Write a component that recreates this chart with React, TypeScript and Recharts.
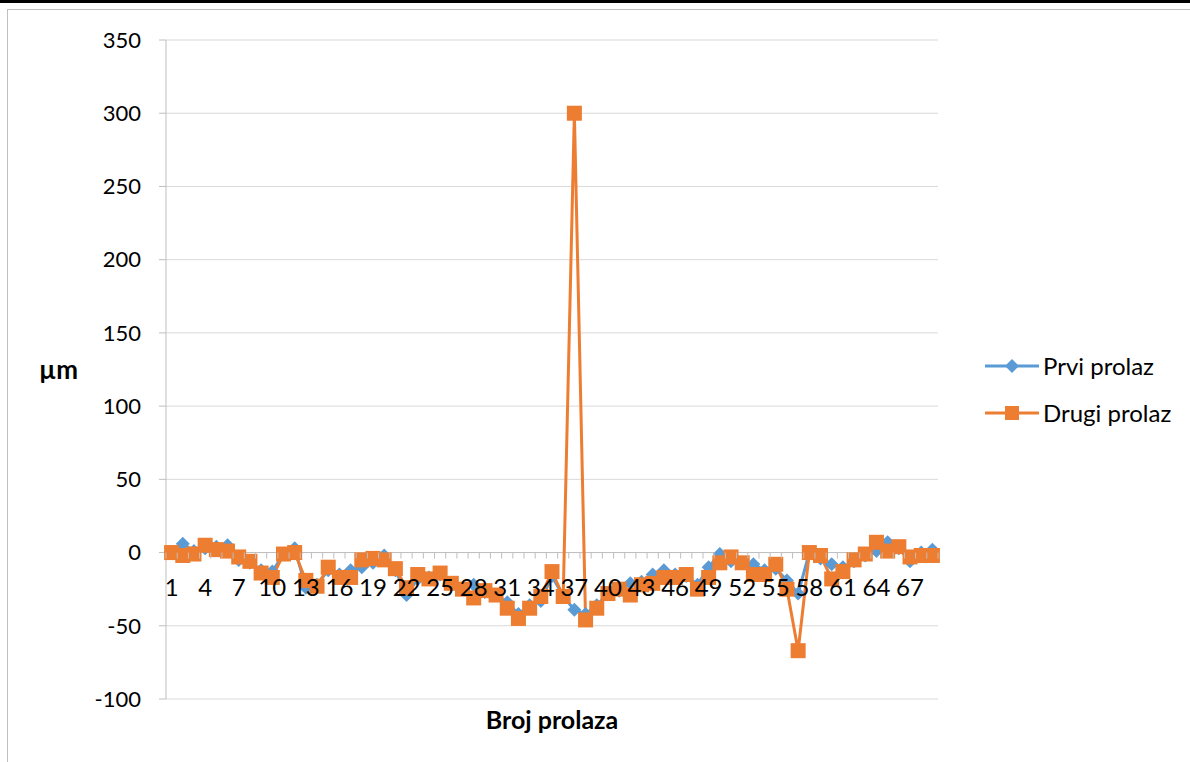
import React from 'react';
import {
  LineChart,
  Line,
  XAxis,
  YAxis,
  CartesianGrid,
  ReferenceLine,
  Legend,
} from 'recharts';

// broj prolaza 1..69
const passes = [
  1, 2, 3, 4, 5, 6, 7, 8, 9, 10, 11, 12, 13, 14, 15, 16, 17, 18, 19, 20, 21, 22, 23,
  24, 25, 26, 27, 28, 29, 30, 31, 32, 33, 34, 35, 36, 37, 38, 39, 40, 41, 42, 43, 44, 45, 46,
  47, 48, 49, 50, 51, 52, 53, 54, 55, 56, 57, 58, 59, 60, 61, 62, 63, 64, 65, 66, 67, 68, 69,
];

const prviProlaz = [
  0, 6, 1, 3, 4, 5, -5, -7, -12, -13, -1, 3, -24, -22, -12, -15, -12, -10, -7, -2, -12, -29, -18,
  -17, -15, -22, -25, -22, -27, -29, -34, -42, -36, -33, -16, -30, -39, -42, -36, -28, -26, -21, -20, -15, -12, -15,
  -16, -22, -10, -1, -6, -7, -8, -12, -11, -19, -28, 0, -4, -8, -10, -6, -2, 1, 7, 3, -6, 0, 2,
];

const drugiProlaz = [
  0, -2, -1, 5, 2, 1, -3, -6, -14, -17, -1, 0, -19, -23, -10, -17, -17, -5, -4, -5, -11, -24, -15,
  -18, -14, -21, -25, -31, -26, -29, -38, -45, -38, -30, -13, -30, 300, -46, -38, -28, -25, -29, -22, -21, -17, -17,
  -15, -25, -17, -7, -3, -7, -15, -15, -8, -25, -67, 0, -2, -18, -13, -5, -1, 7, 1, 4, -3, -2, -2,
];

const yTicks = [-100, -50, 0, 50, 100, 150, 200, 250, 300, 350];
const xTickLabels = [1, 4, 7, 10, 13, 16, 19, 22, 25, 28, 31, 34, 37, 40, 43, 46, 49, 52, 55, 58, 61, 64, 67];

const data = passes.map((n, i) => ({
  n,
  prvi: prviProlaz[i],
  drugi: drugiProlaz[i],
}));

const WIDTH = 1190;
const HEIGHT = 762;
const MARGIN = { top: 40, right: 252, bottom: 33, left: 106 };
const Y_AXIS_W = 60;
const X_AXIS_H = 30;
const PLOT_W = WIDTH - MARGIN.left - Y_AXIS_W - MARGIN.right;
const PLOT_H = HEIGHT - MARGIN.top - MARGIN.bottom - X_AXIS_H;
const BAND = PLOT_W / passes.length;
const Y_MIN = yTicks[0];
const Y_MAX = yTicks[yTicks.length - 1];
// distance from the bottom of the plot up to the 0 line
const ZERO_SHIFT = (PLOT_H * (0 - Y_MIN)) / (Y_MAX - Y_MIN);

const BLUE = '#5b9bd5';
const ORANGE = '#ed7d31';
const AXIS = '#bfbfbf';
const GRID = '#d9d9d9';
const FONT = 'Lato, "Open Sans", sans-serif';
const TEXT = '#000000';

const XTick = (props: any) => {
  const { x, y, payload } = props;
  const y0 = y - ZERO_SHIFT;
  const isLast = payload.value === passes[passes.length - 1];
  return (
    <g>
      <line x1={x - BAND / 2} x2={x - BAND / 2} y1={y0} y2={y0 + 6} stroke={AXIS} />
      {isLast && <line x1={x + BAND / 2} x2={x + BAND / 2} y1={y0} y2={y0 + 6} stroke={AXIS} />}
      {xTickLabels.includes(payload.value) && (
        <text x={x} y={y0 + 43} textAnchor="middle" fill={TEXT} fontSize={24} fontFamily={FONT}>
          {payload.value}
        </text>
      )}
    </g>
  );
};

const diamondDot = (p: any) => {
  const { cx, cy, index } = p;
  const s = 7;
  return (
    <polygon
      key={`d-${index}`}
      points={`${cx},${cy - s} ${cx + s},${cy} ${cx},${cy + s} ${cx - s},${cy}`}
      fill={BLUE}
    />
  );
};

const squareDot = (p: any) => {
  const { cx, cy, index } = p;
  const s = 15;
  return <rect key={`s-${index}`} x={cx - s / 2} y={cy - s / 2} width={s} height={s} fill={ORANGE} />;
};

const LegendBox = () => (
  <div style={{ fontFamily: FONT, fontSize: 24, color: TEXT }}>
    {[
      { name: 'Prvi prolaz', color: BLUE, shape: 'diamond' },
      { name: 'Drugi prolaz', color: ORANGE, shape: 'square' },
    ].map((item) => (
      <div key={item.name} style={{ display: 'flex', alignItems: 'center', height: 47 }}>
        <svg width={54} height={20} style={{ marginRight: 4 }}>
          <line x1={0} x2={54} y1={10} y2={10} stroke={item.color} strokeWidth={3} />
          {item.shape === 'diamond' ? (
            <polygon points="27,3 34,10 27,17 20,10" fill={item.color} />
          ) : (
            <rect x={20} y={3} width={14} height={14} fill={item.color} />
          )}
        </svg>
        <span>{item.name}</span>
      </div>
    ))}
  </div>
);

export default function App() {
  return (
    <div
      style={{
        position: 'absolute',
        left: 0,
        top: 0,
        width: WIDTH,
        height: HEIGHT,
        overflow: 'hidden',
        background: '#fff',
      }}
    >
      <div style={{ position: 'absolute', left: 0, top: 0, width: WIDTH, height: 3, background: '#000' }} />
      <div style={{ position: 'absolute', left: 7, top: 9, width: WIDTH, height: HEIGHT, borderTop: `1px solid ${AXIS}`, borderLeft: `1px solid ${AXIS}` }} />
      <LineChart width={WIDTH} height={HEIGHT} data={data} margin={MARGIN} style={{ position: 'absolute', left: 0, top: 0 }}>
        <CartesianGrid horizontal vertical={false} stroke={GRID} />
        <XAxis
          dataKey="n"
          type="category"
          interval={0}
          height={X_AXIS_H}
          padding={{ left: BAND / 2, right: BAND / 2 }}
          axisLine={false}
          tickLine={false}
          tickSize={0}
          tickMargin={0}
          tick={(p: any) => <XTick {...p} />}
          label={{
            value: 'Broj prolaza',
            position: 'insideBottom',
            offset: 0,
            fill: TEXT,
            fontSize: 25,
            fontWeight: 700,
            fontFamily: FONT,
          }}
        />
        <YAxis
          type="number"
          domain={[Y_MIN, Y_MAX]}
          ticks={yTicks}
          interval={0}
          width={Y_AXIS_W}
          axisLine={{ stroke: AXIS }}
          tickLine={{ stroke: AXIS }}
          tickSize={7}
          tickMargin={18}
          tick={{ fill: TEXT, fontSize: 22, fontFamily: FONT }}
          label={{
            value: 'µm',
            position: 'left',
            offset: 28,
            fill: TEXT,
            fontSize: 26,
            fontWeight: 700,
            fontFamily: FONT,
          }}
        />
        <ReferenceLine y={0} stroke={AXIS} />
        <Legend
          layout="vertical"
          align="center"
          verticalAlign="middle"
          wrapperStyle={{ left: 985, top: 342, width: 205 }}
          content={() => <LegendBox />}
        />
        <Line
          type="linear"
          dataKey="prvi"
          name="Prvi prolaz"
          stroke={BLUE}
          strokeWidth={3}
          dot={diamondDot}
          activeDot={false}
          isAnimationActive={false}
        />
        <Line
          type="linear"
          dataKey="drugi"
          name="Drugi prolaz"
          stroke={ORANGE}
          strokeWidth={3}
          dot={squareDot}
          activeDot={false}
          isAnimationActive={false}
        />
      </LineChart>
    </div>
  );
}
